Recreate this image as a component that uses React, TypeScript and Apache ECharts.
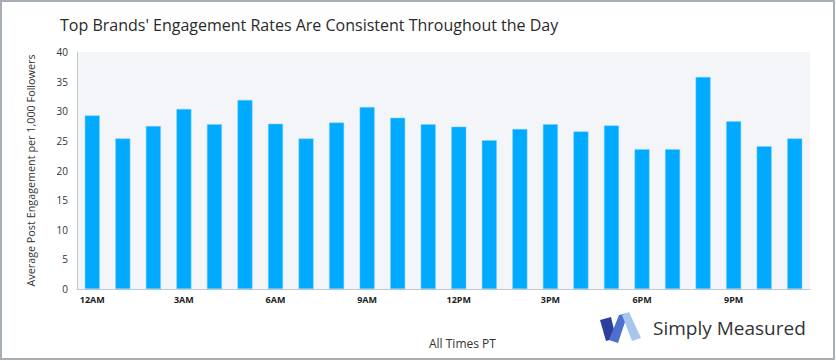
import React, { useEffect, useRef } from "react";
import * as echarts from "echarts";

const hours = [
  "12AM", "1AM", "2AM", "3AM", "4AM", "5AM", "6AM", "7AM", "8AM", "9AM", "10AM", "11AM",
  "12PM", "1PM", "2PM", "3PM", "4PM", "5PM", "6PM", "7PM", "8PM", "9PM", "10PM", "11PM",
];
const engagement = [
  29.3, 25.4, 27.5, 30.4, 27.8, 31.9, 27.9, 25.4, 28.1, 30.7, 28.9, 27.8,
  27.4, 25.1, 27.0, 27.8, 26.6, 27.6, 23.6, 23.6, 35.8, 28.3, 24.1, 25.4,
];
const yTicks = { min: 0, max: 40, interval: 5 };
const titleText = "Top Brands' Engagement Rates Are Consistent Throughout the Day";
const yAxisName = "Average Post Engagement per 1,000 Followers";
const xAxisName = "All Times PT";
const brandName = "Simply Measured";

export default function App() {
  const ref = useRef<HTMLDivElement>(null);
  useEffect(() => {
    if (!ref.current) return;
    const chart = echarts.init(ref.current, null, { renderer: "svg" });
    const font = "'Open Sans', 'Noto Sans', sans-serif";
    chart.setOption({
      animation: false,
      backgroundColor: "#ffffff",
      title: {
        text: titleText,
        left: 55,
        top: 12,
        textStyle: { fontFamily: font, fontSize: 16, fontWeight: "normal", color: "#2a2a2a" },
      },
      grid: {
        left: 77,
        right: 26,
        top: 52,
        bottom: 72,
        show: true,
        backgroundColor: "#f4f5f9",
        borderWidth: 0,
      },
      xAxis: {
        type: "category",
        data: hours,
        axisLine: { show: true, lineStyle: { color: "#c4c6ca", width: 1 } },
        axisTick: { show: false },
        axisLabel: {
          interval: 2,
          fontFamily: font,
          fontSize: 9,
          fontWeight: "bold",
          color: "#222",
          margin: 6,
        },
      },
      yAxis: {
        type: "value",
        min: yTicks.min,
        max: yTicks.max,
        interval: yTicks.interval,
        name: yAxisName,
        nameLocation: "middle",
        nameGap: 41,
        nameTextStyle: { fontFamily: font, fontSize: 10.8, color: "#333" },
        axisLine: { show: true, lineStyle: { color: "#c4c6ca", width: 1 } },
        axisTick: { show: false },
        splitLine: { show: false },
        axisLabel: { fontFamily: font, fontSize: 10, color: "#333", margin: 9 },
      },
      series: [
        {
          type: "bar",
          data: engagement,
          barWidth: 15,
          itemStyle: { color: "#00aaff", borderColor: "#7fd0ff", borderWidth: 0.5 },
        },
      ],
      graphic: [
        {
          type: "rect",
          shape: { x: 1, y: 1, width: 833, height: 358 },
          style: { fill: "none", stroke: "#a8aeb5", lineWidth: 2 },
          silent: true,
        },
        {
          type: "text",
          left: 429,
          top: 337,
          style: { text: xAxisName, fontFamily: font, fontSize: 12, fill: "#333" },
        },
        {
          type: "polygon",
          shape: { points: [[600, 320], [611, 317], [616, 338], [606, 341]] },
          style: { fill: "#2c3f9e" },
        },
        {
          type: "polygon",
          shape: { points: [[609, 340], [619, 315], [628, 313], [618, 343]] },
          style: { fill: "#4f6fcf" },
        },
        {
          type: "polygon",
          shape: { points: [[622, 315], [629, 312], [641, 338], [632, 341]] },
          style: { fill: "#a6c6ee" },
        },
        {
          type: "text",
          left: 653,
          top: 318,
          style: { text: brandName, fontFamily: font, fontSize: 19, fill: "#333" },
        },
      ],
    });
    return () => chart.dispose();
  }, []);
  return (
    <div
      ref={ref}
      style={{ position: "fixed", left: 0, top: 0, width: 836, height: 361 }}
    />
  );
}
